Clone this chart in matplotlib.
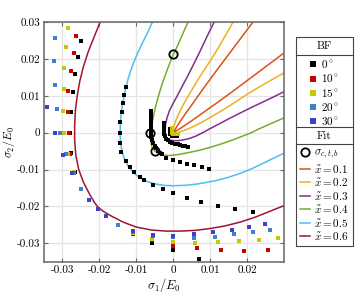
import matplotlib
matplotlib.use("Agg")
import matplotlib.pyplot as plt
from matplotlib.lines import Line2D
from matplotlib.patches import Rectangle

plt.rcParams["font.family"] = "serif"
plt.rcParams["font.serif"] = ["cmr10"]
plt.rcParams["mathtext.fontset"] = "cm"
plt.rcParams["axes.formatter.use_mathtext"] = True

# fitted surfaces, one branch (top edge -> diagonal), mirrored about s1 = s2
fit_names = [r"$\tilde{x} = 0.1$", r"$\tilde{x} = 0.2$", r"$\tilde{x} = 0.3$",
             r"$\tilde{x} = 0.4$", r"$\tilde{x} = 0.5$", r"$\tilde{x} = 0.6$"]
fit_colors = ["#D95319", "#EDB120", "#7E2F8E", "#77AC30", "#4DBEEE", "#A2142F"]
fit_s1 = [
    [0.0231, 0.0216, 0.0183, 0.0150, 0.0117, 0.0084, 0.0055, 0.0030, 0.0012,
     0.0004, 0.0002],
    [0.0173, 0.0162, 0.0144, 0.0125, 0.0105, 0.0084, 0.0066, 0.0050, 0.0034,
     0.0020, 0.0009, 0.0002, -0.0002, -0.0004],
    [0.0121, 0.0111, 0.0097, 0.0084, 0.0070, 0.0055, 0.0040, 0.0025, 0.0011,
     0.0000, -0.0010, -0.0017, -0.0021, -0.0022, -0.0021, -0.0019, -0.0016],
    [0.0049, 0.0040, 0.0029, 0.0018, 0.0009, 0.0000, -0.0011, -0.0022, -0.0032,
     -0.0041, -0.0049, -0.0055, -0.0060, -0.0062, -0.0061, -0.0057, -0.0050],
    [-0.0046, -0.0056, -0.0070, -0.0085, -0.0099, -0.0111, -0.0121, -0.0129,
     -0.0135, -0.0140, -0.0143, -0.0144, -0.0143, -0.0139, -0.0132, -0.0122,
     -0.0115, -0.0108],
    [-0.0189, -0.0198, -0.0214, -0.0230, -0.0243, -0.0253, -0.0260, -0.0265,
     -0.0267, -0.0267, -0.0264, -0.0256, -0.0243, -0.0226, -0.0213, -0.0203],
]
fit_s2 = [
    [0.0320, 0.0300, 0.0256, 0.0212, 0.0168, 0.0123, 0.0082, 0.0047, 0.0020,
     0.0007, 0.0002],
    [0.0320, 0.0300, 0.0268, 0.0235, 0.0202, 0.0170, 0.0142, 0.0115, 0.0088,
     0.0062, 0.0038, 0.0018, 0.0005, -0.0004],
    [0.0320, 0.0300, 0.0272, 0.0245, 0.0215, 0.0185, 0.0155, 0.0127, 0.0100,
     0.0080, 0.0060, 0.0040, 0.0020, 0.0005, -0.0007, -0.0013, -0.0016],
    [0.0320, 0.0300, 0.0275, 0.0250, 0.0230, 0.0212, 0.0184, 0.0155, 0.0126,
     0.0096, 0.0066, 0.0037, 0.0010, -0.0010, -0.0025, -0.0040, -0.0050],
    [0.0320, 0.0300, 0.0270, 0.0240, 0.0210, 0.0180, 0.0150, 0.0120, 0.0090,
     0.0060, 0.0030, 0.0000, -0.0025, -0.0050, -0.0072, -0.0091, -0.0100,
     -0.0108],
    [0.0320, 0.0300, 0.0260, 0.0220, 0.0180, 0.0140, 0.0100, 0.0060, 0.0020,
     -0.0020, -0.0060, -0.0100, -0.0135, -0.0168, -0.0190, -0.0203],
]

# strength points (uniaxial compression, uniaxial tension, biaxial)
crit_s1 = [-0.0063, 0.0000, -0.0049]
crit_s2 = [0.0000, 0.0213, -0.0050]

# BF data
bf_names = [r"$0^\circ$", r"$10^\circ$", r"$15^\circ$", r"$20^\circ$", r"$30^\circ$"]
bf_colors = ["#000000", "#cc0000", "#c8c800", "#3f80c8", "#4040c8"]
bf_s1 = [
    [-0.0249, -0.0257, -0.0265, -0.0272, -0.0277, -0.0279, -0.0277, -0.0266,
     -0.0108, -0.0058, 0.0000, 0.0069,
     -0.0127, -0.0132, -0.0136, -0.0140, -0.0143, -0.0145, -0.0145, -0.0141,
     -0.0128, -0.0117, -0.0105, -0.0091, -0.0078, -0.0055, -0.0029, 0.0000,
     0.0037, 0.0076, 0.0121, 0.0166, 0.0216,
     -0.0059, -0.0059, -0.0059, -0.0059, -0.0059, -0.0059, -0.0059, -0.0059,
     -0.0060, -0.0059, -0.0057, -0.0054, -0.0050, -0.0046, -0.0041, -0.0035, -0.0030,
     -0.0020, 0.0000, 0.0017, 0.0036, 0.0056, 0.0077, 0.0098,
     -0.0025, -0.0025, -0.0025, -0.0025, -0.0024, -0.0023, -0.0020, -0.0015,
     -0.0009, -0.0002, 0.0005, 0.0012, 0.0019, 0.0026, 0.0033, 0.0040,
     -0.0009, -0.0009, -0.0008, -0.0004, 0.0003, 0.0010],
    [-0.0264, -0.0270, -0.0277, -0.0284, -0.0285, -0.0282, -0.0280, -0.0268,
     -0.0108, -0.0058, 0.0000, 0.0064, 0.0129, 0.0193, 0.0257],
    [-0.0284, -0.0290, -0.0295, -0.0297, -0.0298, -0.0295, -0.0285, -0.0269,
     -0.0108, -0.0057, 0.0000, 0.0060, 0.0121, 0.0177, 0.0233, 0.0285,
     -0.0004, -0.0004, -0.0004, 0.0000, 0.0006, 0.0012],
    [-0.0320, -0.0322, -0.0320, -0.0315, -0.0307, -0.0291, -0.0270, -0.0249,
     -0.0149, -0.0108, -0.0056, 0.0000, 0.0057, 0.0112, 0.0165, 0.0216, 0.0263],
    [-0.0342, -0.0320, -0.0298, -0.0273, -0.0227, -0.0205, -0.0182, -0.0108,
     -0.0055, 0.0000, 0.0055, 0.0108, 0.0159, 0.0206, 0.0249],
]
bf_s2 = [
    [0.0248, 0.0205, 0.0158, 0.0109, 0.0055, 0.0000, -0.0056, -0.0108,
     -0.0276, -0.0299, -0.0319, -0.0343,
     0.0125, 0.0103, 0.0080, 0.0055, 0.0028, 0.0000, -0.0028, -0.0053,
     -0.0077, -0.0093, -0.0107, -0.0120, -0.0129, -0.0141, -0.0154, -0.0164,
     -0.0177, -0.0188, -0.0198, -0.0207, -0.0216,
     0.0060, 0.0052, 0.0044, 0.0036, 0.0028, 0.0020, 0.0012, 0.0004,
     -0.0004, -0.0012, -0.0020, -0.0028, -0.0036, -0.0043, -0.0049, -0.0054, -0.0058,
     -0.0068, -0.0074, -0.0080, -0.0085, -0.0089, -0.0093, -0.0098,
     0.0025, 0.0018, 0.0011, 0.0004, -0.0003, -0.0010, -0.0016, -0.0021,
     -0.0025, -0.0028, -0.0030, -0.0032, -0.0034, -0.0035, -0.0037, -0.0039,
     0.0010, 0.0003, -0.0004, -0.0009, -0.0010, -0.0010],
    [0.0263, 0.0217, 0.0167, 0.0113, 0.0057, 0.0000, -0.0057, -0.0107,
     -0.0274, -0.0292, -0.0308, -0.0314, -0.0319, -0.0321, -0.0319],
    [0.0283, 0.0231, 0.0176, 0.0118, 0.0060, 0.0000, -0.0057, -0.0108,
     -0.0272, -0.0288, -0.0296, -0.0299, -0.0297, -0.0294, -0.0290, -0.0285,
     0.0012, 0.0006, 0.0000, -0.0004, -0.0005, -0.0005],
    [0.0256, 0.0193, 0.0128, 0.0063, 0.0000, -0.0057, -0.0109, -0.0152,
     -0.0250, -0.0270, -0.0281, -0.0283, -0.0287, -0.0283, -0.0276, -0.0270, -0.0265],
    [0.0069, 0.0000, -0.0060, -0.0110, -0.0183, -0.0206, -0.0227, -0.0267,
     -0.0277, -0.0279, -0.0276, -0.0270, -0.0263, -0.0256, -0.0249],
]

ticks = [-0.03, -0.02, -0.01, 0, 0.01, 0.02]
tick_labels = ["-0.03", "-0.02", "-0.01", "0", "0.01", "0.02"]
yticks = [-0.03, -0.02, -0.01, 0, 0.01, 0.02, 0.03]
ytick_labels = ["-0.03", "-0.02", "-0.01", "0", "0.01", "0.02", "0.03"]

fig = plt.figure(figsize=(3.56, 2.94), dpi=100)
ax = fig.add_axes([44 / 356, 1 - 261.7 / 294, 240 / 356, 239.7 / 294])

for s1, s2, c in zip(fit_s1, fit_s2, fit_colors):
    x = s1 + s2[-2::-1]
    y = s2 + s1[-2::-1]
    ax.plot(x, y, color=c, lw=1.1, zorder=2, solid_joinstyle="round")

for s1, s2, c in zip(bf_s1, bf_s2, bf_colors):
    ax.plot(s1, s2, ls="none", marker="s", ms=3.3, mfc=c, mec=c, mew=0, zorder=3)

ax.plot(crit_s1, crit_s2, ls="none", marker="o", ms=6, mfc="none", mec="k",
        mew=1.3, zorder=4)

ax.set_xlim(-0.035, 0.03)
ax.set_ylim(-0.035, 0.03)
ax.set_xticks(ticks, tick_labels)
ax.set_yticks(yticks, ytick_labels)
ax.grid(True, color="#e4e4e4", lw=0.9, zorder=0)
ax.set_axisbelow(True)
ax.tick_params(direction="in", top=True, right=True, length=3, width=0.8,
               color="#666666", labelsize=8, pad=2.5)
for sp in ax.spines.values():
    sp.set_color("#666666")
    sp.set_linewidth(1.1)
ax.set_xlabel(r"$\sigma_1/E_0$", fontsize=9, labelpad=1)
ax.set_ylabel(r"$\sigma_2/E_0$", fontsize=8.5)
ax.yaxis.set_label_coords(-0.112, 0.5)

# legend box with header rows
fig.add_artist(Rectangle((296 / 356, 1 - 246 / 294), 57 / 356, 209 / 294,
                         transform=fig.transFigure, fc="white", ec="#444444",
                         lw=0.8, zorder=1))
for yy in [55, 127, 144]:
    fig.add_artist(Line2D([296 / 356, 353 / 356], [1 - yy / 294] * 2,
                          transform=fig.transFigure, color="#444444", lw=0.8))
fig.text(324.5 / 356, 1 - 46 / 294, "BF", ha="center", va="center", fontsize=8)
fig.text(324.5 / 356, 1 - 136 / 294, "Fit", ha="center", va="center", fontsize=8)

bf_handles = [Line2D([], [], ls="none", marker="s", ms=4.5, mfc=c, mec=c, mew=0)
              for c in bf_colors]
fig.legend(bf_handles, bf_names, loc="upper center",
           bbox_to_anchor=(324.5 / 356, 1 - 56 / 294), frameon=False,
           fontsize=8, handlelength=0.6, handletextpad=0.5, labelspacing=0.2,
           borderpad=0.2, borderaxespad=0)

fit_handles = [Line2D([], [], ls="none", marker="o", ms=6, mfc="none", mec="k", mew=1.3)]
fit_handles += [Line2D([], [], color=c, lw=1.1) for c in fit_colors]
fit_labels = [r"$\sigma_{c,t,b}$"] + fit_names
fig.legend(fit_handles, fit_labels, loc="upper center",
           bbox_to_anchor=(324.5 / 356, 1 - 145.5 / 294), frameon=False,
           fontsize=8, handlelength=0.9, handletextpad=0.3, labelspacing=0.135,
           borderpad=0.2, borderaxespad=0)

fig.savefig("out.png", dpi=100)
